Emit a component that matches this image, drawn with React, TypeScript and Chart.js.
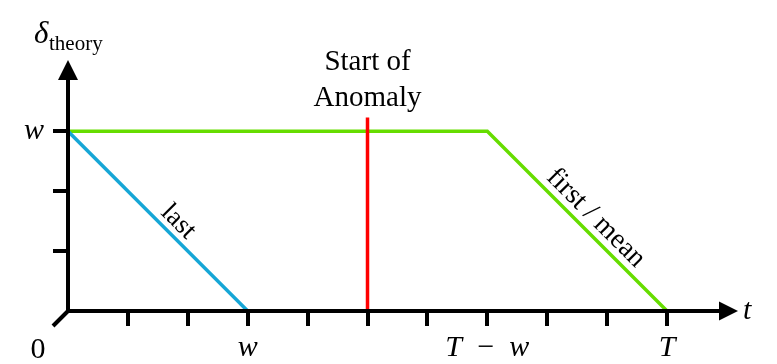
import React, { useEffect, useRef } from 'react';
import { Chart, registerables } from 'chart.js';

Chart.register(...registerables);

// ---- data ----
const xTickValues = [0, 1, 2, 3, 4, 5, 6, 7, 8, 9, 10];
const xTickLabels = ['', '', '', 'w', '', '', '', 'T \u2009\u2212\u2009 w', '', '', 'T'];
const yTickValues = [0, 1, 2, 3];
const yTickLabels = ['', '', '', 'w'];

const firstMeanX = [0, 7, 10];
const firstMeanY = [3, 3, 0];
const lastX = [0, 3];
const lastY = [3, 0];
const anomalyX = [5, 5];
const anomalyY = [0, 3.23];

const X_MAX = 11.185;
const Y_MAX = 4.19;

const SERIF = '"Liberation Serif", "Times New Roman", serif';

const toPts = (xs: number[], ys: number[]) => xs.map((x, i) => ({ x, y: ys[i] }));

const decorPlugin = {
  id: 'decor',
  afterDatasetsDraw(chart: any) {
    const { ctx, chartArea, scales } = chart;
    const xs = scales.x;
    const ys = scales.y;
    const x0 = xs.getPixelForValue(0);
    const y0 = ys.getPixelForValue(0);
    ctx.save();
    ctx.strokeStyle = '#000';
    ctx.fillStyle = '#000';
    ctx.lineWidth = 4;
    ctx.lineCap = 'butt';
    // y axis
    const yTip = chartArea.top;
    ctx.beginPath();
    ctx.moveTo(x0, y0 + 2);
    ctx.lineTo(x0, yTip + 18);
    ctx.stroke();
    ctx.beginPath();
    ctx.moveTo(x0, yTip);
    ctx.lineTo(x0 - 10, yTip + 20);
    ctx.lineTo(x0 + 10, yTip + 20);
    ctx.closePath();
    ctx.fill();
    // x axis
    const xTip = chartArea.right;
    ctx.beginPath();
    ctx.moveTo(x0 - 2, y0);
    ctx.lineTo(xTip - 16, y0);
    ctx.stroke();
    ctx.beginPath();
    ctx.moveTo(xTip, y0);
    ctx.lineTo(xTip - 19, y0 - 9.5);
    ctx.lineTo(xTip - 19, y0 + 9.5);
    ctx.closePath();
    ctx.fill();
    // diagonal origin tick
    ctx.beginPath();
    ctx.moveTo(x0, y0);
    ctx.lineTo(x0 - 15, y0 + 15);
    ctx.stroke();

    // texts
    ctx.textBaseline = 'alphabetic';
    ctx.textAlign = 'center';
    ctx.font = `30px ${SERIF}`;
    ctx.fillText('0', x0 - 30, y0 + 47);

    // y label delta_theory
    ctx.textAlign = 'left';
    ctx.font = `italic 31px ${SERIF}`;
    ctx.fillText('\u03b4', 34, 43);
    ctx.font = `21px ${SERIF}`;
    ctx.fillText('theory', 49, 50);

    // x label t
    ctx.font = `italic 30px ${SERIF}`;
    ctx.fillText('t', xTip + 5, y0 + 8);

    // Start of Anomaly
    const ax = xs.getPixelForValue(5);
    ctx.textAlign = 'center';
    ctx.font = `29px ${SERIF}`;
    ctx.fillText('Start of', ax, 70);
    ctx.fillText('Anomaly', ax, 106);

    // rotated labels
    const rot = (text: string, vx: number, vy: number, size: number) => {
      ctx.save();
      ctx.translate(xs.getPixelForValue(vx), ys.getPixelForValue(vy));
      ctx.rotate(Math.PI / 4);
      ctx.textAlign = 'center';
      ctx.textBaseline = 'middle';
      ctx.font = `${size}px ${SERIF}`;
      ctx.fillText(text, 0, 0);
      ctx.restore();
    };
    rot('last', 1.84, 1.49, 27);
    rot('first / mean', 8.81, 1.55, 28);
    ctx.restore();
  },
};

export default function App() {
  const ref = useRef<HTMLCanvasElement | null>(null);
  useEffect(() => {
    document.body.style.margin = '0';
    if (!ref.current) return;
    const chart = new Chart(ref.current, {
      type: 'line',
      data: {
        datasets: [
          {
            label: 'Start of Anomaly',
            data: toPts(anomalyX, anomalyY),
            borderColor: '#ff0000',
            borderWidth: 3.5,
            pointRadius: 0,
          },
          {
            label: 'last',
            data: toPts(lastX, lastY),
            borderColor: '#16a6d6',
            borderWidth: 3.5,
            pointRadius: 0,
          },
          {
            label: 'first / mean',
            data: toPts(firstMeanX, firstMeanY),
            borderColor: '#66dd00',
            borderWidth: 3.5,
            pointRadius: 0,
          },
        ],
      },
      options: {
        responsive: false,
        animation: false,
        layout: { padding: { left: 0, right: 39, top: 60, bottom: 0 } },
        plugins: { legend: { display: false }, tooltip: { enabled: false } },
        elements: { line: { tension: 0 } },
        scales: {
          x: {
            type: 'linear',
            min: 0,
            max: X_MAX,
            afterBuildTicks: (s: any) => {
              s.ticks = xTickValues.map((v) => ({ value: v }));
            },
            afterFit: (s: any) => {
              s.height = 53;
            },
            border: { display: false },
            grid: {
              drawOnChartArea: false,
              drawTicks: true,
              tickLength: 15,
              lineWidth: 4,
              color: (c: any) => (c.tick && c.tick.value === 0 ? 'rgba(0,0,0,0)' : '#000'),
            },
            ticks: {
              autoSkip: false,
              maxRotation: 0,
              padding: 4,
              color: '#000',
              font: { family: SERIF, size: 30, style: 'italic' },
              callback: (v: any) => {
                const i = xTickValues.indexOf(Number(v));
                return i >= 0 ? xTickLabels[i] : '';
              },
            },
          },
          y: {
            type: 'linear',
            min: 0,
            max: Y_MAX,
            afterBuildTicks: (s: any) => {
              s.ticks = yTickValues.map((v) => ({ value: v }));
            },
            afterFit: (s: any) => {
              s.width = 68;
            },
            border: { display: false },
            grid: {
              drawOnChartArea: false,
              drawTicks: true,
              tickLength: 15,
              lineWidth: 4,
              color: (c: any) => (c.tick && c.tick.value === 0 ? 'rgba(0,0,0,0)' : '#000'),
            },
            ticks: {
              autoSkip: false,
              padding: 9,
              color: '#000',
              font: { family: SERIF, size: 30, style: 'italic' },
              callback: (v: any) => {
                const i = yTickValues.indexOf(Number(v));
                return i >= 0 ? yTickLabels[i] : '';
              },
            },
          },
        },
      },
      plugins: [decorPlugin],
    });
    return () => chart.destroy();
  }, []);
  return (
    <div style={{ position: 'relative', width: 777, height: 364 }}>
      <canvas ref={ref} width={777} height={364} style={{ display: 'block' }} />
    </div>
  );
}
